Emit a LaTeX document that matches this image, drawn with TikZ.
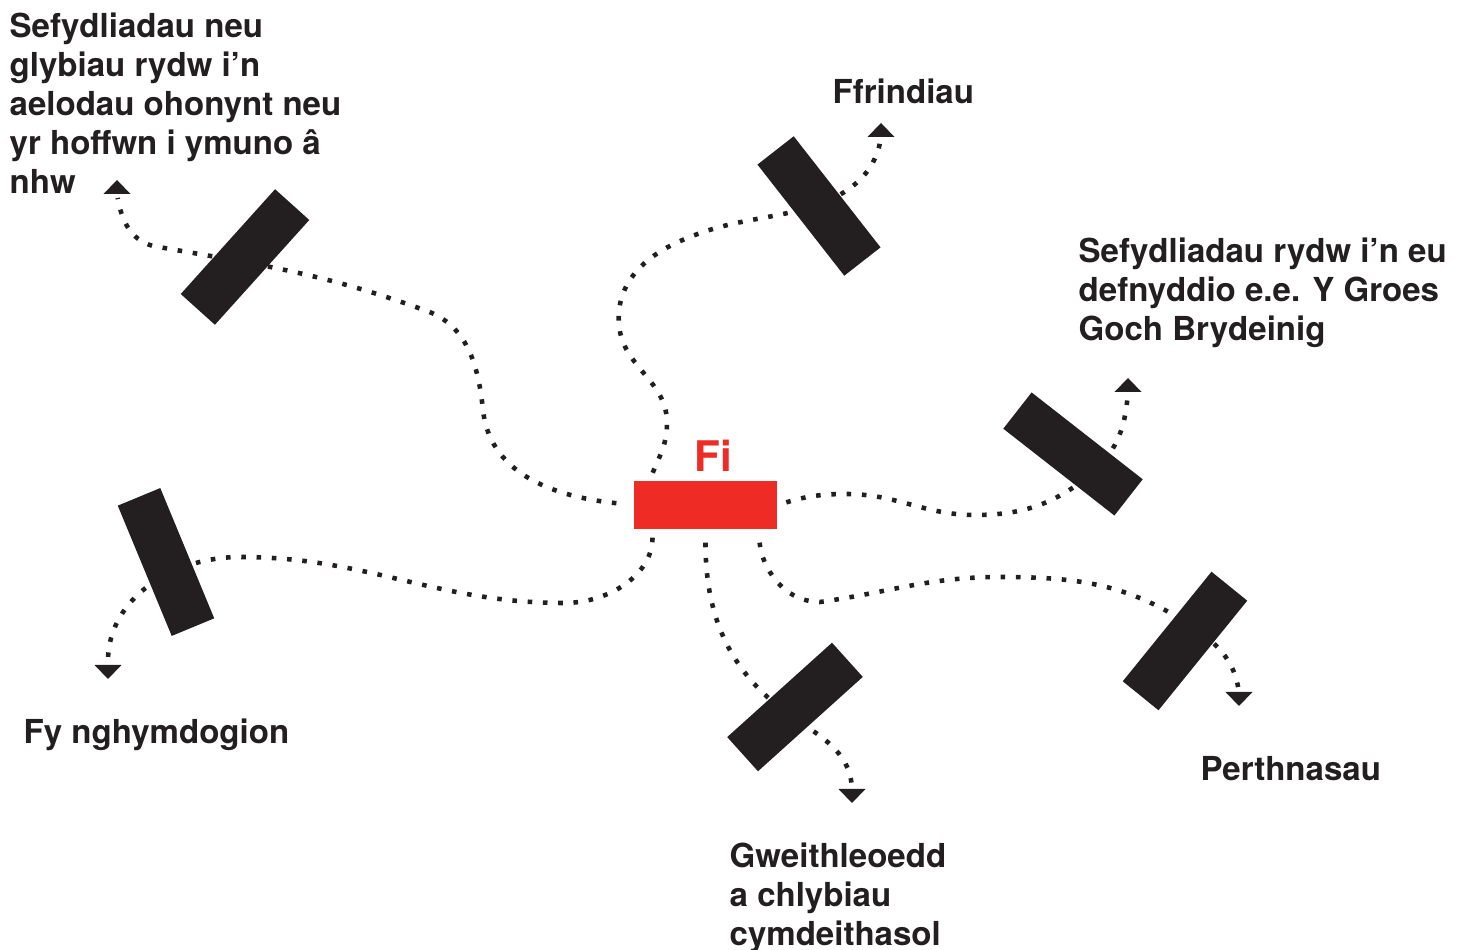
\documentclass[tikz,border=0pt]{standalone}
\usepackage{fontspec}
\setmainfont{TeX Gyre Heros}
\usetikzlibrary{positioning}
\definecolor{ink}{RGB}{35,31,32}
\definecolor{fired}{RGB}{238,43,36}

\begin{document}
\begin{tikzpicture}[x=0.1mm,y=0.1mm,
		me node/.style={fill=fired,minimum width=14.3mm,minimum height=4.8mm,inner sep=0pt},
		bar node/.style={fill=ink,minimum width=14.1mm,minimum height=4.6mm,inner sep=0pt},
		label node/.style={font=\fontsize{9.4}{11.1}\selectfont\bfseries,text=ink,
			align=left,inner sep=0pt,anchor=north west},
		trail/.style={ink,line width=1.3pt,dash pattern=on 1.3pt off 3.05pt,shorten >=0.4mm}]
	
	\useasboundingbox (0,0) rectangle (1467,-950);
	
	\node[me node] (fi) at (705.5,-505) {};
	\node[font=\fontsize{12}{12}\selectfont\bfseries,text=fired,inner sep=0pt,
		above=0.8mm of fi,xshift=0.75mm] (fitxt) {Fi};
	
	\coordinate (clubshead) at (117,-194);
	\coordinate (friendshead) at (881,-137);
	\coordinate (orgshead) at (1128,-392);
	\coordinate (neighbourshead) at (108,-665);
	\coordinate (workhead) at (852,-789);
	\coordinate (familyhead) at (1239,-692);
	
	% dotted trails
	\draw[trail,shorten <=1.7mm] (fi.west) to[out=174,in=-84] (483,-410)
		to[out=96,in=-18] (424,-310) to[out=160,in=-10] (153,-246)
		to[out=165,in=-80] (clubshead);
	\draw[trail,shorten <=0.8mm] (fi.156) to[out=70,in=-90] (667,-423)
		to[out=90,in=-85] (619,-325) to[out=95,in=-155] (676,-243)
		to[out=25,in=-165] (813,-207) to[out=20,in=-100] (friendshead);
	\draw[trail,shorten <=0.9mm] (fi.east) to[out=17,in=180] (846,-494)
		to[out=0,in=180] (975,-515) to[out=0,in=-140] (1095,-471)
		to[out=45,in=-95] (orgshead);
	\draw[trail,shorten <=0.8mm] (fi.205) to[out=-90,in=0] (564,-603)
		to[out=180,in=0] (240,-557) to[out=180,in=90] (neighbourshead);
	\draw[trail,shorten <=1.3mm] (fi.south) to[out=-90,in=145] (790,-715)
		to[out=-35,in=95] (workhead);
	\draw[trail,shorten <=1.3mm] (fi.-25) to[out=-85,in=180] (820,-602)
		to[out=8,in=180] (1000,-577) to[out=0,in=145] (1197,-630)
		to[out=-35,in=100] (familyhead);
	
	% heads
	\fill[ink] (clubshead) ++(-13.5,0) -- ++(27,0) -- ++(-13.5,14) -- cycle;
	\fill[ink] (friendshead) ++(-13.5,0) -- ++(27,0) -- ++(-13.5,14) -- cycle;
	\fill[ink] (orgshead) ++(-13.5,0) -- ++(27,0) -- ++(-13.5,14) -- cycle;
	\fill[ink] (neighbourshead) ++(-13.5,0) -- ++(27,0) -- ++(-13.5,-14) -- cycle;
	\fill[ink] (workhead) ++(-13.5,0) -- ++(27,0) -- ++(-13.5,-14) -- cycle;
	\fill[ink] (familyhead) ++(-13.5,0) -- ++(27,0) -- ++(-13.5,-14) -- cycle;
	
	% bars
	\node[bar node,rotate=48] (clubs) at (245,-257) {};
	\node[bar node,rotate=-52] (friends) at (819,-206) {};
	\node[bar node,rotate=-38] (orgs) at (1073,-454) {};
	\node[bar node,rotate=-67.5] (neighbours) at (166,-562) {};
	\node[bar node,rotate=42] (work) at (795,-707) {};
	\node[bar node,rotate=51] (family) at (1185,-641) {};
	
	% labels
	\node[label node] (clubslbl) at (9,-12) {Sefydliadau neu\\glybiau rydw i’n\\aelodau ohonynt neu\\yr hoffwn i ymuno â\\nhw};
	\node[label node] (friendslbl) at (832,-78) {Ffrindiau};
	\node[label node] (orgslbl) at (1078,-237) {Sefydliadau rydw i’n eu\\defnyddio e.e. Y Groes\\Goch Brydeinig};
	\node[label node] (neighbourslbl) at (23,-718) {Fy nghymdogion};
	\node[label node] (familylbl) at (1200,-756) {Perthnasau};
	\node[label node] (worklbl) at (729,-842) {Gweithleoedd\\a chlybiau\\cymdeithasol};
\end{tikzpicture}
\end{document}
